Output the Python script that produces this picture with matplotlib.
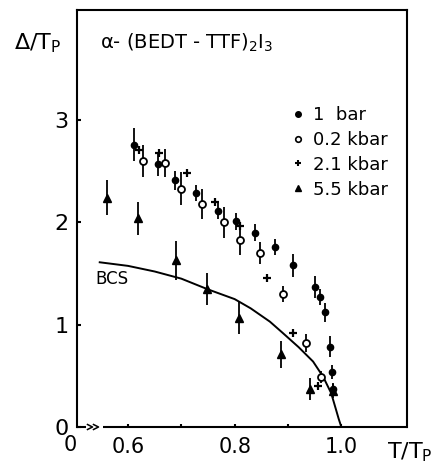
import matplotlib
matplotlib.use("Agg")
import matplotlib.pyplot as plt
from matplotlib.lines import Line2D

# ---- data ----
# 1 bar (filled circles)
t_1bar = [0.611, 0.657, 0.688, 0.727, 0.769, 0.802, 0.839, 0.876, 0.910, 0.951, 0.960, 0.970, 0.979, 0.982, 0.985]
d_1bar = [2.76, 2.57, 2.41, 2.29, 2.11, 2.01, 1.90, 1.76, 1.58, 1.37, 1.27, 1.12, 0.785, 0.54, 0.37]
e_1bar = [0.16, 0.12, 0.09, 0.08, 0.08, 0.08, 0.08, 0.08, 0.11, 0.11, 0.08, 0.09, 0.10, 0.07, 0.06]

# 0.2 kbar (open circles)
t_02 = [0.629, 0.669, 0.699, 0.738, 0.780, 0.810, 0.848, 0.890, 0.934, 0.962]
d_02 = [2.60, 2.58, 2.33, 2.18, 2.00, 1.83, 1.70, 1.30, 0.82, 0.49]
e_02 = [0.16, 0.14, 0.16, 0.15, 0.15, 0.15, 0.11, 0.08, 0.09, 0.06]

# 2.1 kbar (plus)
t_21 = [0.621, 0.659, 0.710, 0.764, 0.810, 0.860, 0.909, 0.956]
d_21 = [2.71, 2.68, 2.48, 2.20, 1.96, 1.46, 0.92, 0.40]

# 5.5 kbar (triangles)
t_55 = [0.561, 0.619, 0.690, 0.749, 0.809, 0.887, 0.941, 0.985]
d_55 = [2.24, 2.04, 1.63, 1.35, 1.07, 0.71, 0.37, 0.35]
e_55 = [0.17, 0.16, 0.19, 0.16, 0.16, 0.13, 0.11, 0.07]

# BCS curve
t_bcs = [0.547, 0.60, 0.65, 0.70, 0.75, 0.80, 0.83, 0.866, 0.89, 0.92, 0.947, 0.966, 0.981, 0.990, 0.995, 1.0]
d_bcs = [1.61, 1.575, 1.52, 1.45, 1.345, 1.25, 1.16, 1.03, 0.92, 0.78, 0.64, 0.49, 0.33, 0.17, 0.08, 0.0]

x_ticks = [0.6, 0.7, 0.8, 0.9, 1.0]
x_ticklabels = ["0.6", "", "0.8", "", "1.0"]
y_ticks = [0, 1, 2, 3]
y_ticklabels = ["0", "1", "2", "3"]

legend_labels = ["1  bar", "0.2 kbar", "2.1 kbar", "5.5 kbar"]

# ---- figure ----
W, H = 447, 466
fig = plt.figure(figsize=(W / 100, H / 100), dpi=100)
L, R, T, B = 77, 407, 10, 427
ax = fig.add_axes([L / W, 1 - B / H, (R - L) / W, (B - T) / H])

lw = 1.5
ax.errorbar(t_1bar, d_1bar, yerr=e_1bar, fmt="o", ms=4.5, color="black", ecolor="black",
            elinewidth=1.3, capsize=0)
ax.errorbar(t_02, d_02, yerr=e_02, fmt="o", ms=5, mfc="white", mec="black", mew=1.3,
            ecolor="black", elinewidth=1.3, capsize=0)
ax.plot(t_21, d_21, "+", ms=6, mew=1.6, color="black")
ax.errorbar(t_55, d_55, yerr=e_55, fmt="^", ms=5.5, color="black", ecolor="black",
            elinewidth=1.3, capsize=0)
ax.plot(t_bcs, d_bcs, "-", color="black", lw=1.4)

ax.set_xlim(0.5044, 1.1231)
ax.set_ylim(0, 4.076)

ax.set_xticks(x_ticks)
ax.set_xticklabels(x_ticklabels, fontsize=15)
ax.set_yticks(y_ticks)
ax.set_yticklabels(y_ticklabels, fontsize=16)
ax.tick_params(axis="x", direction="in", length=2.5, width=1.5, pad=7)
ax.tick_params(axis="y", direction="in", length=3, width=1.5, pad=6)

for s in ["left", "right", "top"]:
    ax.spines[s].set_linewidth(lw)
ax.spines["bottom"].set_visible(False)

# broken x axis with double chevrons
def ax_x(px):
    return (px - L) / (R - L)

def ax_y(py):
    return (B - py) / (B - T)

kw = dict(transform=ax.transAxes, clip_on=False, color="black", lw=lw, solid_capstyle="butt")
ax.plot([ax_x(75.5), ax_x(86)], [0, 0], **kw)
ax.plot([ax_x(103), ax_x(407.7)], [0, 0], **kw)
for x0 in (87.5, 93.5):
    ax.plot([ax_x(x0), ax_x(x0 + 5), ax_x(x0)], [ax_y(424.5), ax_y(427), ax_y(429.5)],
            transform=ax.transAxes, clip_on=False, color="black", lw=1.1)

# legend
handles = [
    Line2D([], [], ls="", marker="o", ms=4, color="black"),
    Line2D([], [], ls="", marker="o", ms=4, mfc="white", mec="black", mew=1.2),
    Line2D([], [], ls="", marker="+", ms=5, mew=1.5, color="black"),
    Line2D([], [], ls="", marker="^", ms=4.5, color="black"),
]
ax.legend(handles, legend_labels, loc="upper left", bbox_to_anchor=(ax_x(293), ax_y(106)),
          frameon=False, fontsize=13, handlelength=0.6, handletextpad=0.5,
          labelspacing=0.38, borderpad=0, borderaxespad=0)

# texts
def fx(px):
    return px / W

def fy(py):
    return 1 - py / H

fig.text(fx(100), fy(43), r"α- (BEDT - TTF)$_2$I$_3$", fontsize=14, va="center", ha="left")
fig.text(fx(14), fy(43), r"Δ/T$_\mathrm{P}$", fontsize=16, va="center", ha="left")
fig.text(fx(95), fy(279), "BCS", fontsize=12, va="center", ha="left")
fig.text(fx(387), fy(452), r"T/T$_\mathrm{P}$", fontsize=16, va="center", ha="left")
fig.text(fx(70), fy(445), "0", fontsize=15, va="center", ha="center")

fig.savefig("out.png", dpi=100)
